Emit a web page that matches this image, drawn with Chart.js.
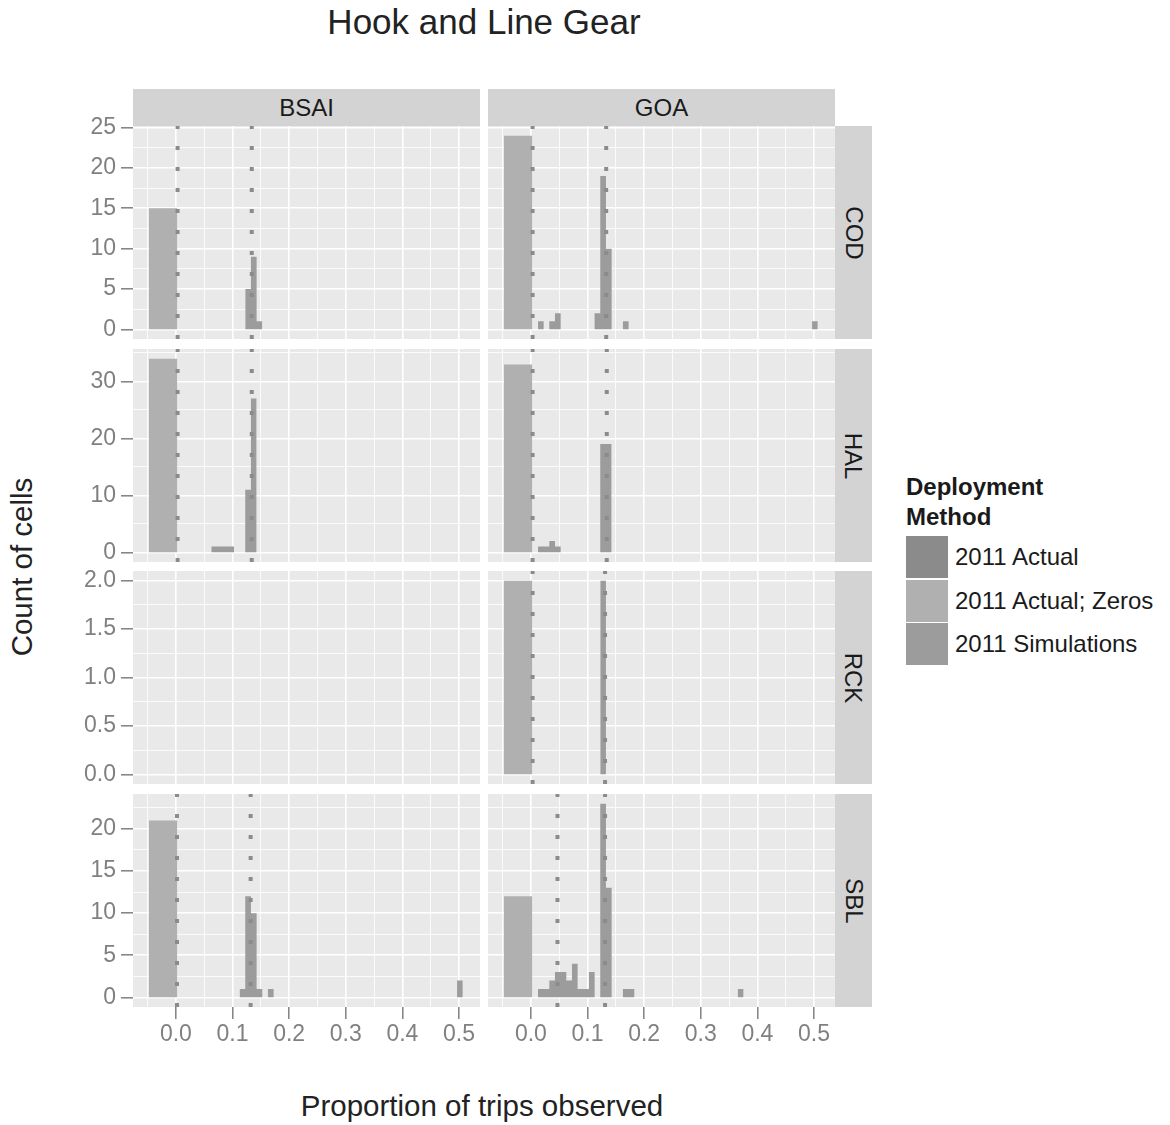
<!DOCTYPE html>
<html>
<head>
<meta charset="utf-8">
<script src="https://cdn.jsdelivr.net/npm/chart.js@4.4.1/dist/chart.umd.min.js"></script>
<style>
  body { margin:0; background:#fff; width:1170px; height:1125px; position:relative; overflow:hidden;
         font-family:"Liberation Sans", Arial, sans-serif; }
  canvas { position:absolute; }
  .txt { position:absolute; white-space:nowrap; }
  .strip { position:absolute; background:#d3d3d3; color:#1a1a1a; font-size:24px;
           display:flex; align-items:center; justify-content:center; }
  .strip span { display:inline-block; }
  .legrow { position:absolute; left:906px; height:42px; display:flex; align-items:center; }
  .sw { width:42px; height:42px; margin-right:7px; }
  .legrow span { font-size:24px; color:#1a1a1a; }
</style>
</head>
<body>
<div class="txt" style="left:484px;top:2px;font-size:35px;line-height:40px;color:#222;transform:translateX(-50%);">Hook and Line Gear</div>
<div class="txt" style="left:482px;top:1086px;font-size:29.5px;line-height:40px;color:#222;transform:translateX(-50%);">Proportion of trips observed</div>
<div class="txt" style="left:22px;top:567px;font-size:29.5px;line-height:40px;color:#222;transform:translate(-50%,-50%) rotate(-90deg);">Count of cells</div>
<div class="txt" style="left:906px;top:472px;font-size:24px;line-height:30px;font-weight:bold;color:#1a1a1a;">Deployment<br>Method</div>
<div id="legend"></div>
<script>
// ---------------- DATA ----------------
const regions = ['BSAI', 'GOA'];
const species = ['COD', 'HAL', 'RCK', 'SBL'];
const seriesNames = ['2011 Actual', '2011 Actual; Zeros', '2011 Simulations'];

const xTicksMajor = [0, 0.1, 0.2, 0.3, 0.4, 0.5];
const xTicksMinor = [-0.05, 0.05, 0.15, 0.25, 0.35, 0.45];
const yTicksMajor = [[0, 5, 10, 15, 20, 25], [0, 10, 20, 30], [0, 0.5, 1, 1.5, 2], [0, 5, 10, 15, 20]];
const yTicksMinor = [[2.5, 7.5, 12.5, 17.5, 22.5], [5, 15, 25, 35], [0.25, 0.75, 1.25, 1.75], [2.5, 7.5, 12.5, 17.5, 22.5]];

// zero-coverage bar (2011 Actual; Zeros)
const zeroBinLeft = -0.0475;
const zeroBinWidth = 0.05;
const zeroCountsBSAI = [15, 34, 0, 21];
const zeroCountsGOA  = [24, 33, 2, 12];

// 2011 Actual reference values (dotted lines)
const actualBSAI = [[0.003, 0.134], [0.003, 0.134], [], [0.002, 0.132]];
const actualGOA  = [[0.003, 0.133], [0.003, 0.134], [0.003, 0.131], [0.047, 0.131]];

// 2011 Simulations histograms: bin left edges and counts
const simBinWidth = 0.0101;
const simEdgesCOD_BSAI  = [0.1225, 0.1325, 0.1425];
const simCountsCOD_BSAI = [5, 9, 1];
const simEdgesCOD_GOA   = [0.0125, 0.0325, 0.0425, 0.1125, 0.1225, 0.1325, 0.1625, 0.4965];
const simCountsCOD_GOA  = [1, 1, 2, 2, 19, 10, 1, 1];
const simEdgesHAL_BSAI  = [0.0625, 0.0725, 0.0825, 0.0925, 0.1225, 0.1325];
const simCountsHAL_BSAI = [1, 1, 1, 1, 11, 27];
const simEdgesHAL_GOA   = [0.0125, 0.0225, 0.0325, 0.0425, 0.1225, 0.1325];
const simCountsHAL_GOA  = [1, 1, 2, 1, 19, 19];
const simEdgesRCK_BSAI  = [];
const simCountsRCK_BSAI = [];
const simEdgesRCK_GOA   = [0.1225];
const simCountsRCK_GOA  = [2];
const simEdgesSBL_BSAI  = [0.1125, 0.1225, 0.1325, 0.1425, 0.1625, 0.4965];
const simCountsSBL_BSAI = [1, 12, 10, 1, 1, 2];
const simEdgesSBL_GOA   = [0.0125, 0.0225, 0.0325, 0.0425, 0.0525, 0.0625, 0.0725, 0.0825, 0.0925, 0.1025, 0.1225, 0.1325, 0.1625, 0.1725, 0.3655];
const simCountsSBL_GOA  = [1, 1, 2, 3, 3, 2, 4, 1, 1, 3, 23, 13, 1, 1, 1];

// axis limits (ggplot-style expanded ranges)
const xMin = -0.0757, xMax = 0.537;
const yMins = [-1.2, -1.7, -0.1, -1.15];
const yMaxs = [25.2, 35.7, 2.1, 24.15];

// ---------------- STYLE / LAYOUT ----------------
const COLORS = { actual: '#8b8b8b', zeros: '#b0b0b0', sims: '#9c9c9c' };
const PANEL_BG = '#e9e9e9';
const TICK_COLOR = '#808080';
const COL_X = [133, 488], COL_W = 347;
const ROW_Y = [126, 349, 571, 794], ROW_H = 213;
const Y_AXIS_W = 73, X_AXIS_H = 48, PAD = 24;

Chart.defaults.font.family = "'Liberation Sans', Arial, sans-serif";

const simTable = {
  COD_BSAI: [simEdgesCOD_BSAI, simCountsCOD_BSAI], COD_GOA: [simEdgesCOD_GOA, simCountsCOD_GOA],
  HAL_BSAI: [simEdgesHAL_BSAI, simCountsHAL_BSAI], HAL_GOA: [simEdgesHAL_GOA, simCountsHAL_GOA],
  RCK_BSAI: [simEdgesRCK_BSAI, simCountsRCK_BSAI], RCK_GOA: [simEdgesRCK_GOA, simCountsRCK_GOA],
  SBL_BSAI: [simEdgesSBL_BSAI, simCountsSBL_BSAI], SBL_GOA: [simEdgesSBL_GOA, simCountsSBL_GOA]
};
const zeroTable = { BSAI: zeroCountsBSAI, GOA: zeroCountsGOA };
const actualTable = { BSAI: actualBSAI, GOA: actualGOA };

function histPoints(lefts, counts, width) {
  const pts = [];
  lefts.forEach((l, i) => {
    const r = l + width;
    pts.push({x: l, y: 0}, {x: l, y: counts[i]}, {x: r, y: counts[i]}, {x: r, y: 0});
  });
  return pts;
}
function inList(v, list) { return list.some(m => Math.abs(m - v) < 1e-9); }

const panelBg = {
  id: 'panelBg',
  beforeDraw(chart) {
    const a = chart.chartArea, ctx = chart.ctx;
    ctx.save(); ctx.fillStyle = PANEL_BG;
    ctx.fillRect(a.left, a.top, a.right - a.left, a.bottom - a.top);
    ctx.restore();
  }
};

// strips
regions.forEach((rg, c) => {
  const d = document.createElement('div');
  d.className = 'strip';
  d.style.left = COL_X[c] + 'px'; d.style.top = '89px';
  d.style.width = COL_W + 'px'; d.style.height = (ROW_Y[0] - 89) + 'px';
  d.innerHTML = '<span>' + rg + '</span>';
  document.body.appendChild(d);
});
species.forEach((sp, r) => {
  const d = document.createElement('div');
  d.className = 'strip';
  d.style.left = (COL_X[1] + COL_W) + 'px'; d.style.top = ROW_Y[r] + 'px';
  d.style.width = '37px'; d.style.height = ROW_H + 'px';
  d.innerHTML = '<span style="transform:rotate(90deg)">' + sp + '</span>';
  document.body.appendChild(d);
});

// legend
const legendColors = [COLORS.actual, COLORS.zeros, COLORS.sims];
const legTops = [536, 579.5, 623];
seriesNames.forEach((name, i) => {
  const d = document.createElement('div');
  d.className = 'legrow';
  d.style.top = legTops[i] + 'px';
  d.innerHTML = '<div class="sw" style="background:' + legendColors[i] + '"></div><span>' + name + '</span>';
  document.getElementById('legend').appendChild(d);
});

// panels
species.forEach((sp, r) => regions.forEach((rg, c) => {
  const leftAxis = c === 0, bottomAxis = r === species.length - 1;
  const w = COL_W + (leftAxis ? Y_AXIS_W : 0);
  const h = ROW_H + PAD + (bottomAxis ? X_AXIS_H : PAD);
  const cv = document.createElement('canvas');
  cv.width = w; cv.height = h;
  cv.style.left = (COL_X[c] - (leftAxis ? Y_AXIS_W : 0)) + 'px';
  cv.style.top = (ROW_Y[r] - PAD) + 'px';
  cv.style.width = w + 'px'; cv.style.height = h + 'px';
  document.body.appendChild(cv);

  const datasets = [];
  actualTable[rg][r].forEach(v => {
    datasets.push({
      label: seriesNames[0], data: [{x: v, y: yMins[r]}, {x: v, y: yMaxs[r]}],
      borderColor: COLORS.actual, borderWidth: 4, borderDash: [4, 17], borderCapStyle: 'butt',
      pointRadius: 0, fill: false, tension: 0
    });
  });
  const [edges, counts] = simTable[sp + '_' + rg];
  datasets.push({
    label: seriesNames[2], data: histPoints(edges, counts, simBinWidth),
    borderWidth: 0, borderColor: 'rgba(0,0,0,0)', backgroundColor: COLORS.sims,
    pointRadius: 0, fill: 'origin', tension: 0
  });
  const zc = zeroTable[rg][r];
  datasets.push({
    label: seriesNames[1], data: zc > 0 ? histPoints([zeroBinLeft], [zc], zeroBinWidth) : [],
    borderWidth: 0, borderColor: 'rgba(0,0,0,0)', backgroundColor: COLORS.zeros,
    pointRadius: 0, fill: 'origin', tension: 0
  });

  const xTicks = xTicksMinor.concat(xTicksMajor).sort((a, b) => a - b);
  const yTicks = yTicksMinor[r].concat(yTicksMajor[r]).sort((a, b) => a - b);

  new Chart(cv, {
    type: 'line',
    data: { datasets },
    plugins: [panelBg],
    options: {
      responsive: false, devicePixelRatio: 1, animation: false, events: [],
      layout: { padding: { top: PAD, bottom: bottomAxis ? 0 : PAD, left: 0, right: 0 } },
      plugins: { legend: { display: false }, tooltip: { enabled: false } },
      scales: {
        x: {
          type: 'linear', min: xMin, max: xMax, bounds: 'data',
          afterBuildTicks: s => { s.ticks = xTicks.map(v => ({value: v})); },
          afterFit: s => { s.height = bottomAxis ? X_AXIS_H : 0; },
          border: { display: false },
          grid: {
            color: '#ffffff',
            lineWidth: ctx => inList(ctx.tick.value, xTicksMajor) ? 1.6 : 0.8,
            drawTicks: bottomAxis, tickLength: 12, tickWidth: 1.5,
            tickColor: ctx => inList(ctx.tick.value, xTicksMajor) ? TICK_COLOR : 'rgba(0,0,0,0)'
          },
          ticks: {
            display: bottomAxis, autoSkip: false, maxRotation: 0, minRotation: 0, padding: 2,
            color: TICK_COLOR, font: { size: 23 },
            callback: v => inList(v, xTicksMajor) ? v.toFixed(1) : ''
          }
        },
        y: {
          type: 'linear', min: yMins[r], max: yMaxs[r], bounds: 'data',
          afterBuildTicks: s => { s.ticks = yTicks.map(v => ({value: v})); },
          afterFit: s => { s.width = leftAxis ? Y_AXIS_W : 0; },
          border: { display: false },
          grid: {
            color: '#ffffff',
            lineWidth: ctx => inList(ctx.tick.value, yTicksMajor[r]) ? 1.6 : 0.8,
            drawTicks: leftAxis, tickLength: 12, tickWidth: 1.5,
            tickColor: ctx => inList(ctx.tick.value, yTicksMajor[r]) ? TICK_COLOR : 'rgba(0,0,0,0)'
          },
          ticks: {
            display: leftAxis, autoSkip: false, padding: 5,
            color: TICK_COLOR, font: { size: 23 },
            callback: v => inList(v, yTicksMajor[r]) ? (r === 2 ? v.toFixed(1) : String(v)) : ''
          }
        }
      }
    }
  });
}));
</script>
</body>
</html>
